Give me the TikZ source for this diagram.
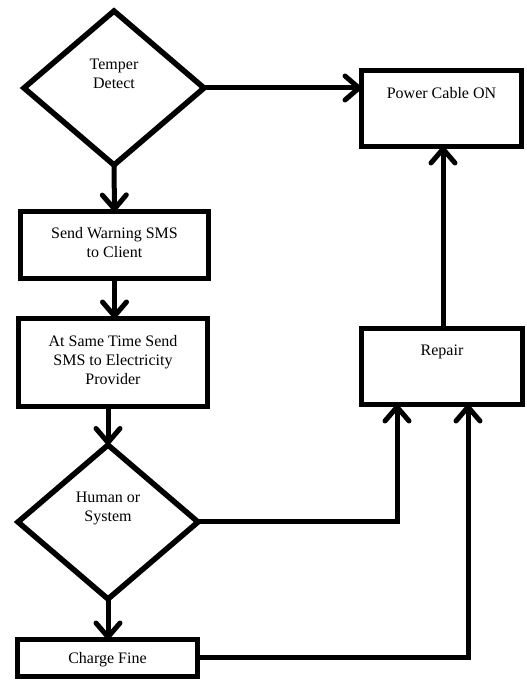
\documentclass[tikz,border=0pt]{standalone}
\usepackage{fontspec}
\setmainfont{Liberation Serif}
\usetikzlibrary{shapes.geometric,arrows.meta,calc}
\begin{document}
\begin{tikzpicture}[x=1pt,y=1pt,
  box/.style={draw=black,line width=5.5pt,rectangle,inner sep=0pt,outer sep=0pt},
  dia/.style={draw=black,line width=5.5pt,diamond,inner sep=0pt,outer sep=0pt,minimum width=180pt,minimum height=154pt},
  txt/.style={align=center,inner sep=0pt,font=\fontsize{16}{19}\selectfont},
  conn/.style={line width=5pt,-{Straight Barb[length=14pt,width=24pt,line cap=round,line join=round]}},
  plain/.style={line width=5pt}]
\useasboundingbox (0,0) rectangle (527,680);
% nodes
\node[dia] (temper) at (114,592) {};
\node[txt] (tempert) at (114,606) {Temper\\Detect};
\node[box,minimum width=188pt,minimum height=67pt] (warn) at (114.5,435) {};
\node[txt] (warnt) at (114.5,437.5) {Send Warning SMS\\to Client};
\node[box,minimum width=189pt,minimum height=88pt] (prov) at (113,317.5) {};
\node[txt] (provt) at (113,320) {At Same Time Send\\SMS to Electricity\\Provider};
\node[dia] (human) at (108,158) {};
\node[txt] (humant) at (108,171.5) {Human or\\System};
\node[box,minimum width=180pt,minimum height=37pt] (fine) at (107.5,22) {};
\node[txt] (finet) at (107.5,20) {Charge Fine};
\node[box,minimum width=160pt,minimum height=76pt] (power) at (441.5,571.5) {};
\node[txt] (powert) at (441.5,587) {Power Cable ON};
\node[box,minimum width=161pt,minimum height=76pt] (repair) at (442,313.5) {};
\node[txt] (repairt) at (442,328) {Repair};
\coordinate (rin1) at (397,0 |- repair.south);
\coordinate (rin2) at (468,0 |- repair.south);
% connectors
\draw[conn] (temper.south) -- (warn.north);
\draw[conn] (warn.south) -- (warn.south |- prov.north);
\draw[conn] (human.north |- prov.south) -- (human.north);
\draw[conn] (human.south) -- (human.south |- fine.north);
\draw[conn] (temper.east) -- (temper.east -| power.west);
\draw[conn] (repair.north -| 443,0) -- (power.south -| 443,0);
\draw[conn] (human.east) -| (rin1);
\draw[conn] (fine.east) -| (rin2);
\end{tikzpicture}
\end{document}
